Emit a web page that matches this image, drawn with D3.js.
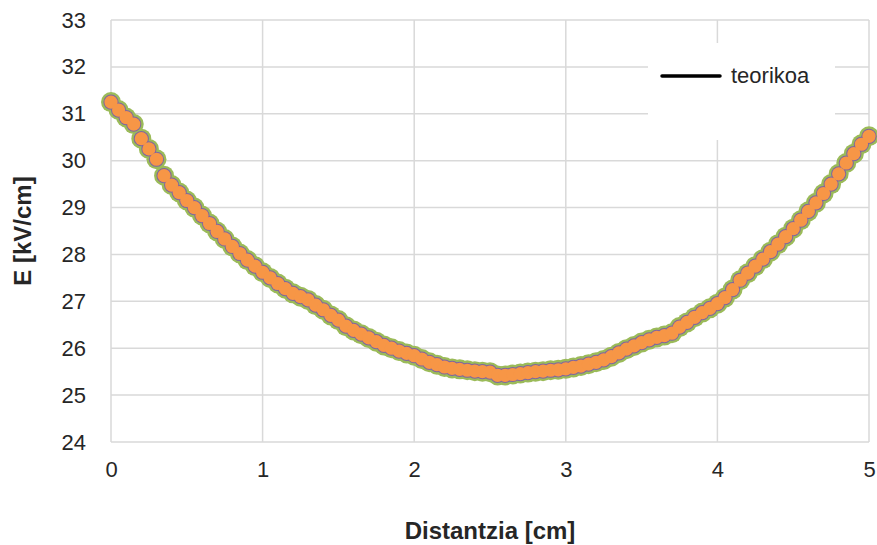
<!DOCTYPE html>
<html>
<head>
<meta charset="utf-8">
<script src="https://cdn.jsdelivr.net/npm/d3@7"></script>
<style>
  body { margin: 0; background: #fff; }
  svg { display: block; }
</style>
</head>
<body>
<div id="chart"></div>
<script>
// measured field along the gap (cm, kV/cm)
const distance = [
  0.00, 0.05, 0.10, 0.15, 0.20, 0.25, 0.30, 0.35, 0.40, 0.45,
  0.50, 0.55, 0.60, 0.65, 0.70, 0.75, 0.80, 0.85, 0.90, 0.95,
  1.00, 1.05, 1.10, 1.15, 1.20, 1.25, 1.30, 1.35, 1.40, 1.45,
  1.50, 1.55, 1.60, 1.65, 1.70, 1.75, 1.80, 1.85, 1.90, 1.95,
  2.00, 2.05, 2.10, 2.15, 2.20, 2.25, 2.30, 2.35, 2.40, 2.45,
  2.50, 2.55, 2.60, 2.65, 2.70, 2.75, 2.80, 2.85, 2.90, 2.95,
  3.00, 3.05, 3.10, 3.15, 3.20, 3.25, 3.30, 3.35, 3.40, 3.45,
  3.50, 3.55, 3.60, 3.65, 3.70, 3.75, 3.80, 3.85, 3.90, 3.95,
  4.00, 4.05, 4.10, 4.15, 4.20, 4.25, 4.30, 4.35, 4.40, 4.45,
  4.50, 4.55, 4.60, 4.65, 4.70, 4.75, 4.80, 4.85, 4.90, 4.95,
  5.00
];
const field = [
  31.25, 31.08, 30.92, 30.78, 30.47, 30.25, 30.03, 29.68, 29.48, 29.32,
  29.15, 29.00, 28.83, 28.66, 28.49, 28.33, 28.17, 28.02, 27.88, 27.75,
  27.62, 27.50, 27.38, 27.27, 27.17, 27.10, 27.03, 26.92, 26.82, 26.70,
  26.60, 26.47, 26.38, 26.30, 26.22, 26.14, 26.06, 26.00, 25.94, 25.89,
  25.84, 25.77, 25.70, 25.65, 25.60, 25.57, 25.55, 25.53, 25.51, 25.50,
  25.49, 25.42, 25.42, 25.44, 25.46, 25.48, 25.50, 25.51, 25.53, 25.54,
  25.56, 25.59, 25.62, 25.66, 25.70, 25.75, 25.82, 25.90, 25.98, 26.05,
  26.12, 26.18, 26.23, 26.27, 26.32, 26.45, 26.55, 26.66, 26.76, 26.85,
  26.95, 27.08, 27.25, 27.45, 27.60, 27.75, 27.90, 28.06, 28.22, 28.38,
  28.55, 28.73, 28.92, 29.10, 29.30, 29.50, 29.72, 29.95, 30.15, 30.35,
  30.52
];
const xTicks = [0, 1, 2, 3, 4, 5];
const yTicks = [24, 25, 26, 27, 28, 29, 30, 31, 32, 33];
const legendLabel = "teorikoa";

const width = 877, height = 545;
const margin = { top: 20, right: 8, bottom: 103, left: 111 };

const svg = d3.select("#chart").append("svg")
  .attr("width", width)
  .attr("height", height);

const x = d3.scaleLinear().domain([0, 5]).range([margin.left, width - margin.right]);
const y = d3.scaleLinear().domain([24, 33]).range([height - margin.bottom, margin.top]);

const points = distance.map((d, i) => ({ x: d, y: field[i] }));

// gridlines
svg.append("g")
  .selectAll("line.h")
  .data(yTicks)
  .enter().append("line")
  .attr("x1", x(0)).attr("x2", x(5))
  .attr("y1", d => y(d)).attr("y2", d => y(d))
  .attr("stroke", "#d9d9d9")
  .attr("stroke-width", 1.5);

svg.append("g")
  .selectAll("line.v")
  .data(xTicks)
  .enter().append("line")
  .attr("x1", d => x(d)).attr("x2", d => x(d))
  .attr("y1", y(24)).attr("y2", y(33))
  .attr("stroke", "#d9d9d9")
  .attr("stroke-width", 1.5);

// tick labels
const yAxis = svg.append("g")
  .attr("transform", `translate(${x(0)},0)`)
  .call(d3.axisLeft(y).tickValues(yTicks).tickSize(0).tickPadding(25).tickFormat(d3.format("d")));
const xAxis = svg.append("g")
  .attr("transform", `translate(0,${y(24)})`)
  .call(d3.axisBottom(x).tickValues(xTicks).tickSize(0).tickFormat(d3.format("d")));
[yAxis, xAxis].forEach(g => g.select(".domain").remove());
yAxis.selectAll("text")
  .attr("font-family", "'Liberation Sans', Arial, sans-serif")
  .attr("font-size", 22)
  .attr("fill", "#262626");
xAxis.selectAll("text")
  .attr("y", 35).attr("dy", null)
  .attr("font-family", "'Liberation Sans', Arial, sans-serif")
  .attr("font-size", 22)
  .attr("fill", "#262626");

// theoretical line (sits under the markers)
svg.append("path")
  .datum(points)
  .attr("fill", "none")
  .attr("stroke", "#000")
  .attr("stroke-width", 3)
  .attr("d", d3.line().x(d => x(d.x)).y(d => y(d.y)));

// markers: green glow, purple rim, orange fill
const layers = [
  { r: 10, fill: "#9bbb59" },
  { r: 7.6, fill: "#8064a2" },
  { r: 6.6, fill: "#f79646" }
];
layers.forEach(l => {
  svg.append("g")
    .selectAll("circle")
    .data(points)
    .enter().append("circle")
    .attr("cx", d => x(d.x))
    .attr("cy", d => y(d.y))
    .attr("r", l.r)
    .attr("fill", l.fill);
});

// legend
const legend = svg.append("g");
legend.append("rect")
  .attr("x", 648).attr("y", 43)
  .attr("width", 187).attr("height", 97)
  .attr("fill", "#fff");
legend.append("line")
  .attr("x1", 662).attr("x2", 720)
  .attr("y1", 76).attr("y2", 76)
  .attr("stroke", "#000")
  .attr("stroke-width", 3.5)
  .attr("stroke-linecap", "round");
legend.append("text")
  .attr("x", 731).attr("y", 83)
  .attr("font-family", "'Liberation Sans', Arial, sans-serif")
  .attr("font-size", 22)
  .attr("fill", "#262626")
  .text(legendLabel);

// axis titles
svg.append("text")
  .attr("x", (x(0) + x(5)) / 2)
  .attr("y", 539)
  .attr("text-anchor", "middle")
  .attr("font-family", "'Liberation Sans', Arial, sans-serif")
  .attr("font-size", 24)
  .attr("font-weight", "bold")
  .attr("fill", "#262626")
  .text("Distantzia [cm]");

svg.append("text")
  .attr("transform", `translate(31,231) rotate(-90)`)
  .attr("text-anchor", "middle")
  .attr("font-family", "'Liberation Sans', Arial, sans-serif")
  .attr("font-size", 24)
  .attr("font-weight", "bold")
  .attr("fill", "#262626")
  .text("E [kV/cm]");
</script>
</body>
</html>
